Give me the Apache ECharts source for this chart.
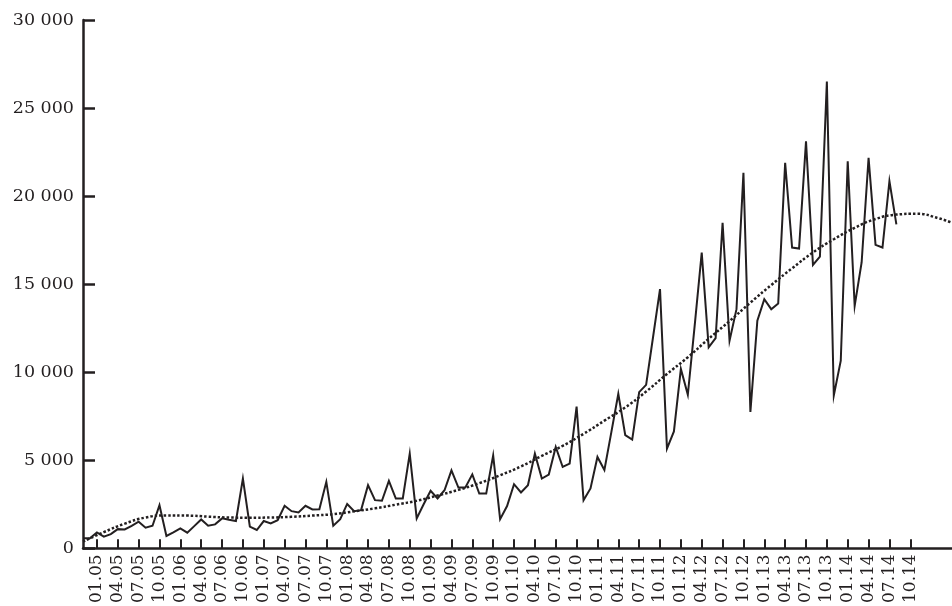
<!DOCTYPE html>
<html>
<head>
<meta charset="utf-8">
<script src="https://cdn.jsdelivr.net/npm/echarts@6/dist/echarts.min.js"></script>
<style>
html,body{margin:0;padding:0;background:#fff;}
#chart{width:952px;height:606px;}
</style>
</head>
<body>
<div id="chart"></div>
<script>
const categories = [
'11.04','12.04',
'01.05','02.05','03.05','04.05','05.05','06.05','07.05','08.05','09.05','10.05','11.05','12.05',
'01.06','02.06','03.06','04.06','05.06','06.06','07.06','08.06','09.06','10.06','11.06','12.06',
'01.07','02.07','03.07','04.07','05.07','06.07','07.07','08.07','09.07','10.07','11.07','12.07',
'01.08','02.08','03.08','04.08','05.08','06.08','07.08','08.08','09.08','10.08','11.08','12.08',
'01.09','02.09','03.09','04.09','05.09','06.09','07.09','08.09','09.09','10.09','11.09','12.09',
'01.10','02.10','03.10','04.10','05.10','06.10','07.10','08.10','09.10','10.10','11.10','12.10',
'01.11','02.11','03.11','04.11','05.11','06.11','07.11','08.11','09.11','10.11','11.11','12.11',
'01.12','02.12','03.12','04.12','05.12','06.12','07.12','08.12','09.12','10.12','11.12','12.12',
'01.13','02.13','03.13','04.13','05.13','06.13','07.13','08.13','09.13','10.13','11.13','12.13',
'01.14','02.14','03.14','04.14','05.14','06.14','07.14','08.14','09.14','10.14','11.14','12.14',
'01.15','02.15','03.15','04.15'
];

const values = [
566,566,
906,660,810,1090,1075,1280,1510,1170,1280,2450,700,900,
1130,890,1260,1640,1280,1360,1700,1620,1550,3960,1230,1040,
1550,1415,1600,2415,2110,2040,2415,2210,2220,3775,1280,1650,
2520,2110,2170,3585,2735,2700,3830,2830,2830,5377,1700,2500,
3265,2830,3300,4430,3450,3450,4200,3110,3110,5280,1660,2400,
3640,3170,3585,5377,3960,4190,5760,4620,4810,8050,2735,3400,
5190,4450,6600,8770,6430,6170,8870,9280,12000,14720,5660,6640,
10190,8720,12700,16790,11415,11940,18490,11790,13580,21320,7740,12920,
14150,13580,13900,21890,17080,17020,23110,16090,16570,26500,8680,10660,
21980,13770,16230,22170,17230,17080,20850,18400
];

const _ = null;
const trendLine = [380,_,_,920,_,_,1400,_,_,1750,_,_,1870,_,_,1860,_,_,1800,_,_,1750,_,_,1740,_,_,1750,_,_,1790,_,_,1860,_,_,1940,_,_,2100,_,_,2270,_,_,2480,_,_,2700,_,_,3000,_,_,3320,_,_,3700,_,_,4150,_,_,4650,_,_,5250,_,_,5820,_,_,6500,_,_,7250,_,_,8000,_,_,8900,_,_,9900,_,_,10850,_,_,11900,_,_,12900,_,_,13950,_,_,14950,_,_,15900,_,_,16800,_,_,17550,_,_,18200,_,_,18700,_,_,18950,_,_,19000,_,_,18750,_,18490];

const yTicks = { min: 0, max: 30000, step: 5000 };
const labelFirst = 2, labelLast = 119, labelStep = 3;

const ink = '#231f20';
const font = 'DejaVu Serif';

const showIdx = (i) => i >= labelFirst && i <= labelLast && (i - labelFirst) % labelStep === 0;

const chart = echarts.init(document.getElementById('chart'), null, { renderer: 'canvas' });
chart.setOption({
  animation: false,
  backgroundColor: '#ffffff',
  grid: { left: 83, right: 0, top: 20, bottom: 56, containLabel: false },
  xAxis: {
    type: 'category',
    data: categories,
    boundaryGap: false,
    axisLine: { show: true, lineStyle: { color: ink, width: 2.5 } },
    axisTick: { show: true, inside: true, length: 9, lineStyle: { color: ink, width: 2 }, interval: (i) => showIdx(i) },
    axisLabel: { show: true, rotate: 90, margin: 6, interval: (i) => showIdx(i), color: ink, fontFamily: font, fontSize: 17 },
    splitLine: { show: false }
  },
  yAxis: {
    type: 'value',
    min: yTicks.min, max: yTicks.max, interval: yTicks.step,
    axisLine: { show: true, lineStyle: { color: ink, width: 2.5 } },
    axisTick: { show: true, inside: true, length: 12, lineStyle: { color: ink, width: 2.5 } },
    axisLabel: { margin: 9, color: ink, fontFamily: font, fontSize: 17.5,
      formatter: (v) => String(v).replace(/\B(?=(\d{3})+(?!\d))/g, ' ') },
    splitLine: { show: false }
  },
  series: [
    {
      type: 'line', data: values, showSymbol: false, symbol: 'none',
      lineStyle: { color: ink, width: 2, join: 'miter' }, z: 3
    },
    {
      type: 'line', data: trendLine, connectNulls: true, smooth: 0.5, showSymbol: false, symbol: 'none',
      lineStyle: { color: ink, width: 2.5, type: [2.5, 2], cap: 'butt' }, z: 2
    }
  ]
});
</script>
</body>
</html>
